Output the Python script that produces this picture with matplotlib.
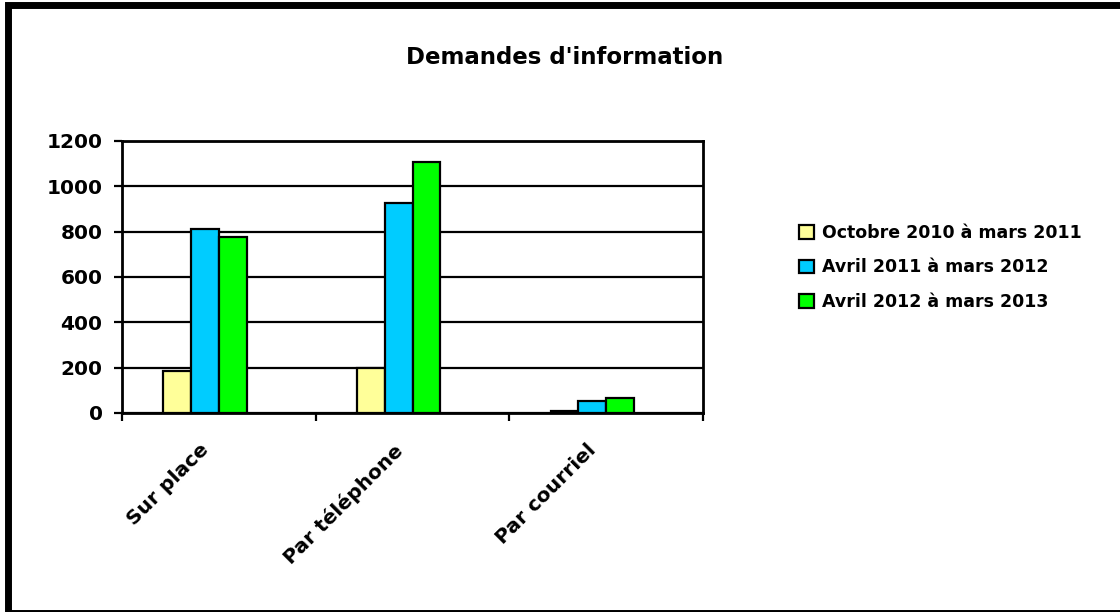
"""Bar chart of information requests by channel over three periods."""
import matplotlib
matplotlib.use("Agg")
from matplotlib import pyplot as plt
from matplotlib.patches import Rectangle
from matplotlib.transforms import ScaledTranslation

# data
categories = ["Sur place", "Par téléphone", "Par courriel"]
periods = ["Octobre 2010 à mars 2011", "Avril 2011 à mars 2012", "Avril 2012 à mars 2013"]
oct2010_mar2011 = [187, 200, 9]
avr2011_mar2012 = [810, 925, 54]
avr2012_mar2013 = [778, 1107, 65]
colors = ["#FFFF99", "#00CCFF", "#00FF00"]
y_ticks = [0, 200, 400, 600, 800, 1000, 1200]

plt.rcParams["font.family"] = "DejaVu Sans"
plt.rcParams["font.weight"] = "bold"

fig = plt.figure(figsize=(11.2, 6.12), dpi=100)
ax = fig.add_axes([122 / 1120, 1 - 413 / 612, 581 / 1120, 272 / 612])

# four slots per category, the last one is empty
bar_w = 0.143
series = [oct2010_mar2011, avr2011_mar2012, avr2012_mar2013]
for i, (values, label, color) in enumerate(zip(series, periods, colors)):
    xs = [c + (i - 1.5) * bar_w for c in range(len(categories))]
    ax.bar(xs, values, width=bar_w, color=color, edgecolor="black",
           linewidth=1.6, label=label, zorder=3)

ax.set_ylim(0, 1200)
ax.set_xlim(-0.5, len(categories) - 0.5)
ax.set_yticks(y_ticks)
ax.set_yticklabels([str(v) for v in y_ticks], fontsize=14.5, fontweight="bold")
ax.yaxis.grid(True, color="black", linewidth=1.6, zorder=1)

ax.set_xticks([-0.5, 0.5, 1.5, 2.5])
ax.set_xticklabels([])
ax.set_xticks(range(len(categories)), minor=True)
ax.set_xticklabels(categories, minor=True, rotation=45, ha="right",
                   rotation_mode="anchor", fontsize=14.5, fontweight="bold")
ax.tick_params(axis="x", which="minor", length=0, pad=14)
ax.tick_params(axis="x", which="major", length=6, width=1.6, direction="out")
ax.tick_params(axis="y", length=6, width=1.6, direction="out", pad=8)

# nudge the slanted category labels down and to the left
shift = ScaledTranslation(-0.2, -0.08, fig.dpi_scale_trans)
for lbl in ax.get_xticklabels(minor=True):
    lbl.set_transform(lbl.get_transform() + shift)

for spine in ax.spines.values():
    spine.set_linewidth(2)
    spine.set_color("black")

fig.text(565 / 1120, 1 - 58 / 612, "Demandes d'information", ha="center",
         va="center", fontsize=16.5, fontweight="bold")

leg = ax.legend(loc="upper left", bbox_to_anchor=(792 / 1120, 1 - 217 / 612),
                bbox_transform=fig.transFigure, frameon=False, fontsize=12.5,
                handlelength=0.85, handleheight=0.85, handletextpad=0.45,
                labelspacing=0.95, borderaxespad=0)
for t in leg.get_texts():
    t.set_fontweight("bold")

# outer frame of the chart
fig.add_artist(Rectangle((7.5 / 1120, -0.5 / 612), 1120 / 1120, (612 - 4.5) / 612,
                         transform=fig.transFigure, fill=False,
                         edgecolor="black", linewidth=5))

fig.savefig("out.png", dpi=100)
